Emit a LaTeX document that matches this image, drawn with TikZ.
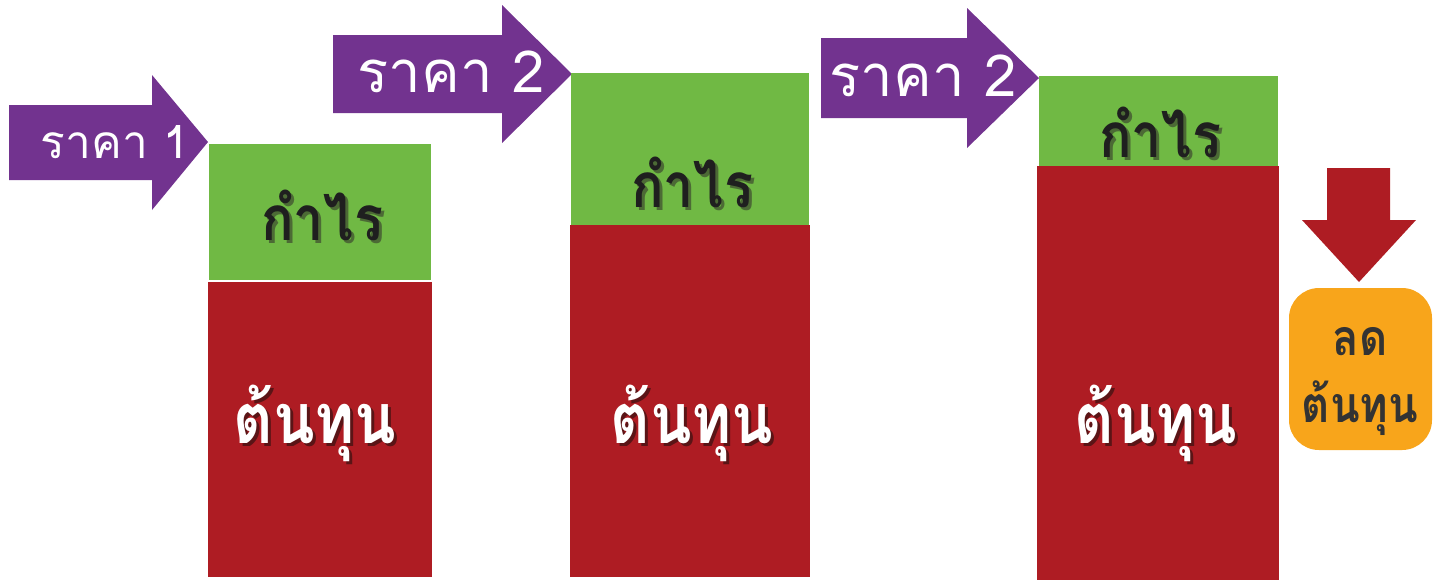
\documentclass[tikz,border=0pt]{standalone}
\usepackage{fontspec}
\newfontfamily\thai[Script=Thai]{Loma}
\definecolor{purp}{HTML}{72338F}
\definecolor{grn}{HTML}{70B944}
\definecolor{rd}{HTML}{AE1C23}
\definecolor{orng}{HTML}{F8A51B}
\definecolor{gshadow}{HTML}{4C6A35}
\definecolor{rshadow}{HTML}{5A1416}
\definecolor{dgray}{HTML}{333333}
\newcommand{\narrow}[1]{\scalebox{0.87}[1]{#1}}
\tikzset{
  arrowshape/.style={fill=purp, draw=none},
  gbox/.style={fill=grn, draw=none},
  rbox/.style={fill=rd, draw=none},
  pricetxt/.style={text=white, font=\thai\fontsize{23}{25}\selectfont, inner sep=0pt, anchor=base},
  bigprice/.style={pricetxt, font=\thai\fontsize{29}{31}\selectfont},
  profittxt/.style={text=black!88, font=\thai\bfseries\fontsize{31}{33}\selectfont, inner sep=0pt, anchor=base},
  profitsh/.style={profittxt, text=gshadow},
  costtxt/.style={text=white, font=\thai\bfseries\fontsize{35}{37}\selectfont, inner sep=0pt, anchor=base},
  costsh/.style={costtxt, text=rshadow},
  cuttxt/.style={text=dgray, font=\thai\bfseries\fontsize{25}{27}\selectfont, inner sep=0pt, anchor=base},
}
\begin{document}
\begin{tikzpicture}[x=0.5pt,y=-0.5pt]
\useasboundingbox (0,0) rectangle (1439,585);
% arrows
\fill[arrowshape] (9,105) -- (152,105) -- (152,75) -- (208,142) -- (152,210) -- (152,180) -- (9,180) -- cycle;
\fill[arrowshape] (333,35) -- (502,35) -- (502,5) -- (572,74) -- (502,143) -- (502,113) -- (333,113) -- cycle;
\fill[arrowshape] (821,38) -- (967,38) -- (967,8) -- (1039,78) -- (967,148) -- (967,118) -- (821,118) -- cycle;
\node[pricetxt] (p1) at (115,158) {ราคา 1};
\node[bigprice] (p2) at (451,92) {ราคา 2};
\node[bigprice] (p3) at (923,96) {ราคา 2};
% boxes
\fill[gbox] (209,144) rectangle (431,280);
\fill[rbox] (208,282) rectangle (432,577);
\fill[gbox] (571,73) rectangle (809,225);
\fill[rbox] (570,225) rectangle (810,577);
\fill[gbox] (1039,76) rectangle (1278,166);
\fill[rbox] (1037,166) rectangle (1279,580);
% texts
\node[profitsh] at (325,243) {\narrow{กำไร}};
\node[profittxt] (g1) at (322,240) {\narrow{กำไร}};
\node[profitsh] at (695,210) {\narrow{กำไร}};
\node[profittxt] (g2) at (692,207) {\narrow{กำไร}};
\node[profitsh] at (1163,160) {\narrow{กำไร}};
\node[profittxt] (g3) at (1160,157) {\narrow{กำไร}};
\node[costsh] at (318,446) {\narrow{ต้นทุน}};
\node[costtxt] (c1) at (315,443) {\narrow{ต้นทุน}};
\node[costsh] at (695,446) {\narrow{ต้นทุน}};
\node[costtxt] (c2) at (692,443) {\narrow{ต้นทุน}};
\node[costsh] at (1159,446) {\narrow{ต้นทุน}};
\node[costtxt] (c3) at (1156,443) {\narrow{ต้นทุน}};
% down arrow
\fill[rbox] (1327,168) -- (1390,168) -- (1390,220) -- (1416,220) -- (1359,282) -- (1302,220) -- (1327,220) -- cycle;
\fill[orng, rounded corners=15] (1289,288) rectangle (1432,450);
\node[cuttxt] (cut1) at (1360,355) {\narrow{ลด}};
\node[cuttxt] (cut2) at (1360,422) {\narrow{ต้นทุน}};
\end{tikzpicture}
\end{document}
